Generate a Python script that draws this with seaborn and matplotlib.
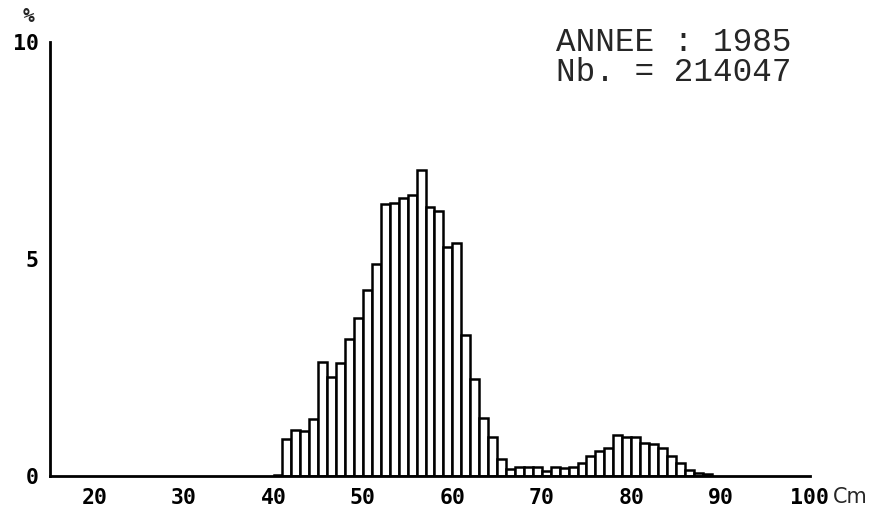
import numpy as np
import pandas as pd
import matplotlib
matplotlib.use("Agg")
import matplotlib.pyplot as plt
import seaborn as sns

# Data
lengths = list(range(40, 89))  # length class (cm), each bar spans [L, L+1]
pct = [0.03,
       0.85, 1.06, 1.04, 1.31, 2.62, 2.27, 2.61, 3.15, 3.63,
       4.29, 4.88, 6.27, 6.29, 6.41, 6.47, 7.05, 6.19, 6.10, 5.27,
       5.38, 3.25, 2.23, 1.34, 0.91, 0.40, 0.15, 0.20, 0.20, 0.20,
       0.12, 0.20, 0.18, 0.20, 0.30, 0.45, 0.58, 0.64, 0.94, 0.89,
       0.89, 0.75, 0.74, 0.64, 0.46, 0.31, 0.14, 0.08, 0.05]
x_ticks = [20, 30, 40, 50, 60, 70, 80, 90, 100]
y_ticks = [0, 5, 10]
title_lines = ["ANNEE : 1985", "Nb. = 214047"]

df = pd.DataFrame({"center": np.array(lengths, dtype=float) + 0.5,
                   "pct": pct})

sns.set_style("white")
plt.rcParams['font.family'] = ['DejaVu Sans Mono', 'DejaVu Sans']

fig = plt.figure(figsize=(8.75, 5.15), dpi=100)
ax = fig.add_axes([50 / 875, 39 / 515, 760 / 875, 434 / 515])

sns.histplot(data=df, x="center", weights="pct", bins=list(range(40, 90)),
             ax=ax, stat="count", fill=True, color="white",
             edgecolor="black", linewidth=1.8, alpha=1)

ax.set_xlim(15, 100)
ax.set_ylim(0, 10)
ax.set_xticks(x_ticks)
ax.set_xticklabels([str(t) for t in x_ticks], fontsize=15.5, fontweight="bold")
ax.set_yticks(y_ticks)
ax.set_yticklabels([str(t) for t in y_ticks], fontsize=15.5, fontweight="bold")
ax.set_xlabel("")
ax.set_ylabel("")
ax.tick_params(axis="x", direction="out", length=6.5, width=2, pad=2.5,
               colors="black")
ax.tick_params(axis="y", direction="out", length=7, width=1.5, pad=1,
               colors="black")
for s in ["top", "right"]:
    ax.spines[s].set_visible(False)
for s in ["left", "bottom"]:
    ax.spines[s].set_linewidth(2)
    ax.spines[s].set_color("black")

fig.text(29 / 875, 1 - 16 / 515, "%", fontsize=14, fontweight="bold",
         ha="center", va="center")
fig.text(833 / 875, 1 - 497 / 515, "Cm", fontsize=15, ha="left",
         va="center", family=["DejaVu Sans"])

fig.text(556 / 875, 1 - 51 / 515, title_lines[0], fontsize=23.5,
         ha="left", va="baseline", family=["Liberation Mono"])
fig.text(556 / 875, 1 - 81 / 515, title_lines[1], fontsize=23.5,
         ha="left", va="baseline", family=["Liberation Mono"])

fig.savefig("out.png", dpi=100, facecolor="white")
